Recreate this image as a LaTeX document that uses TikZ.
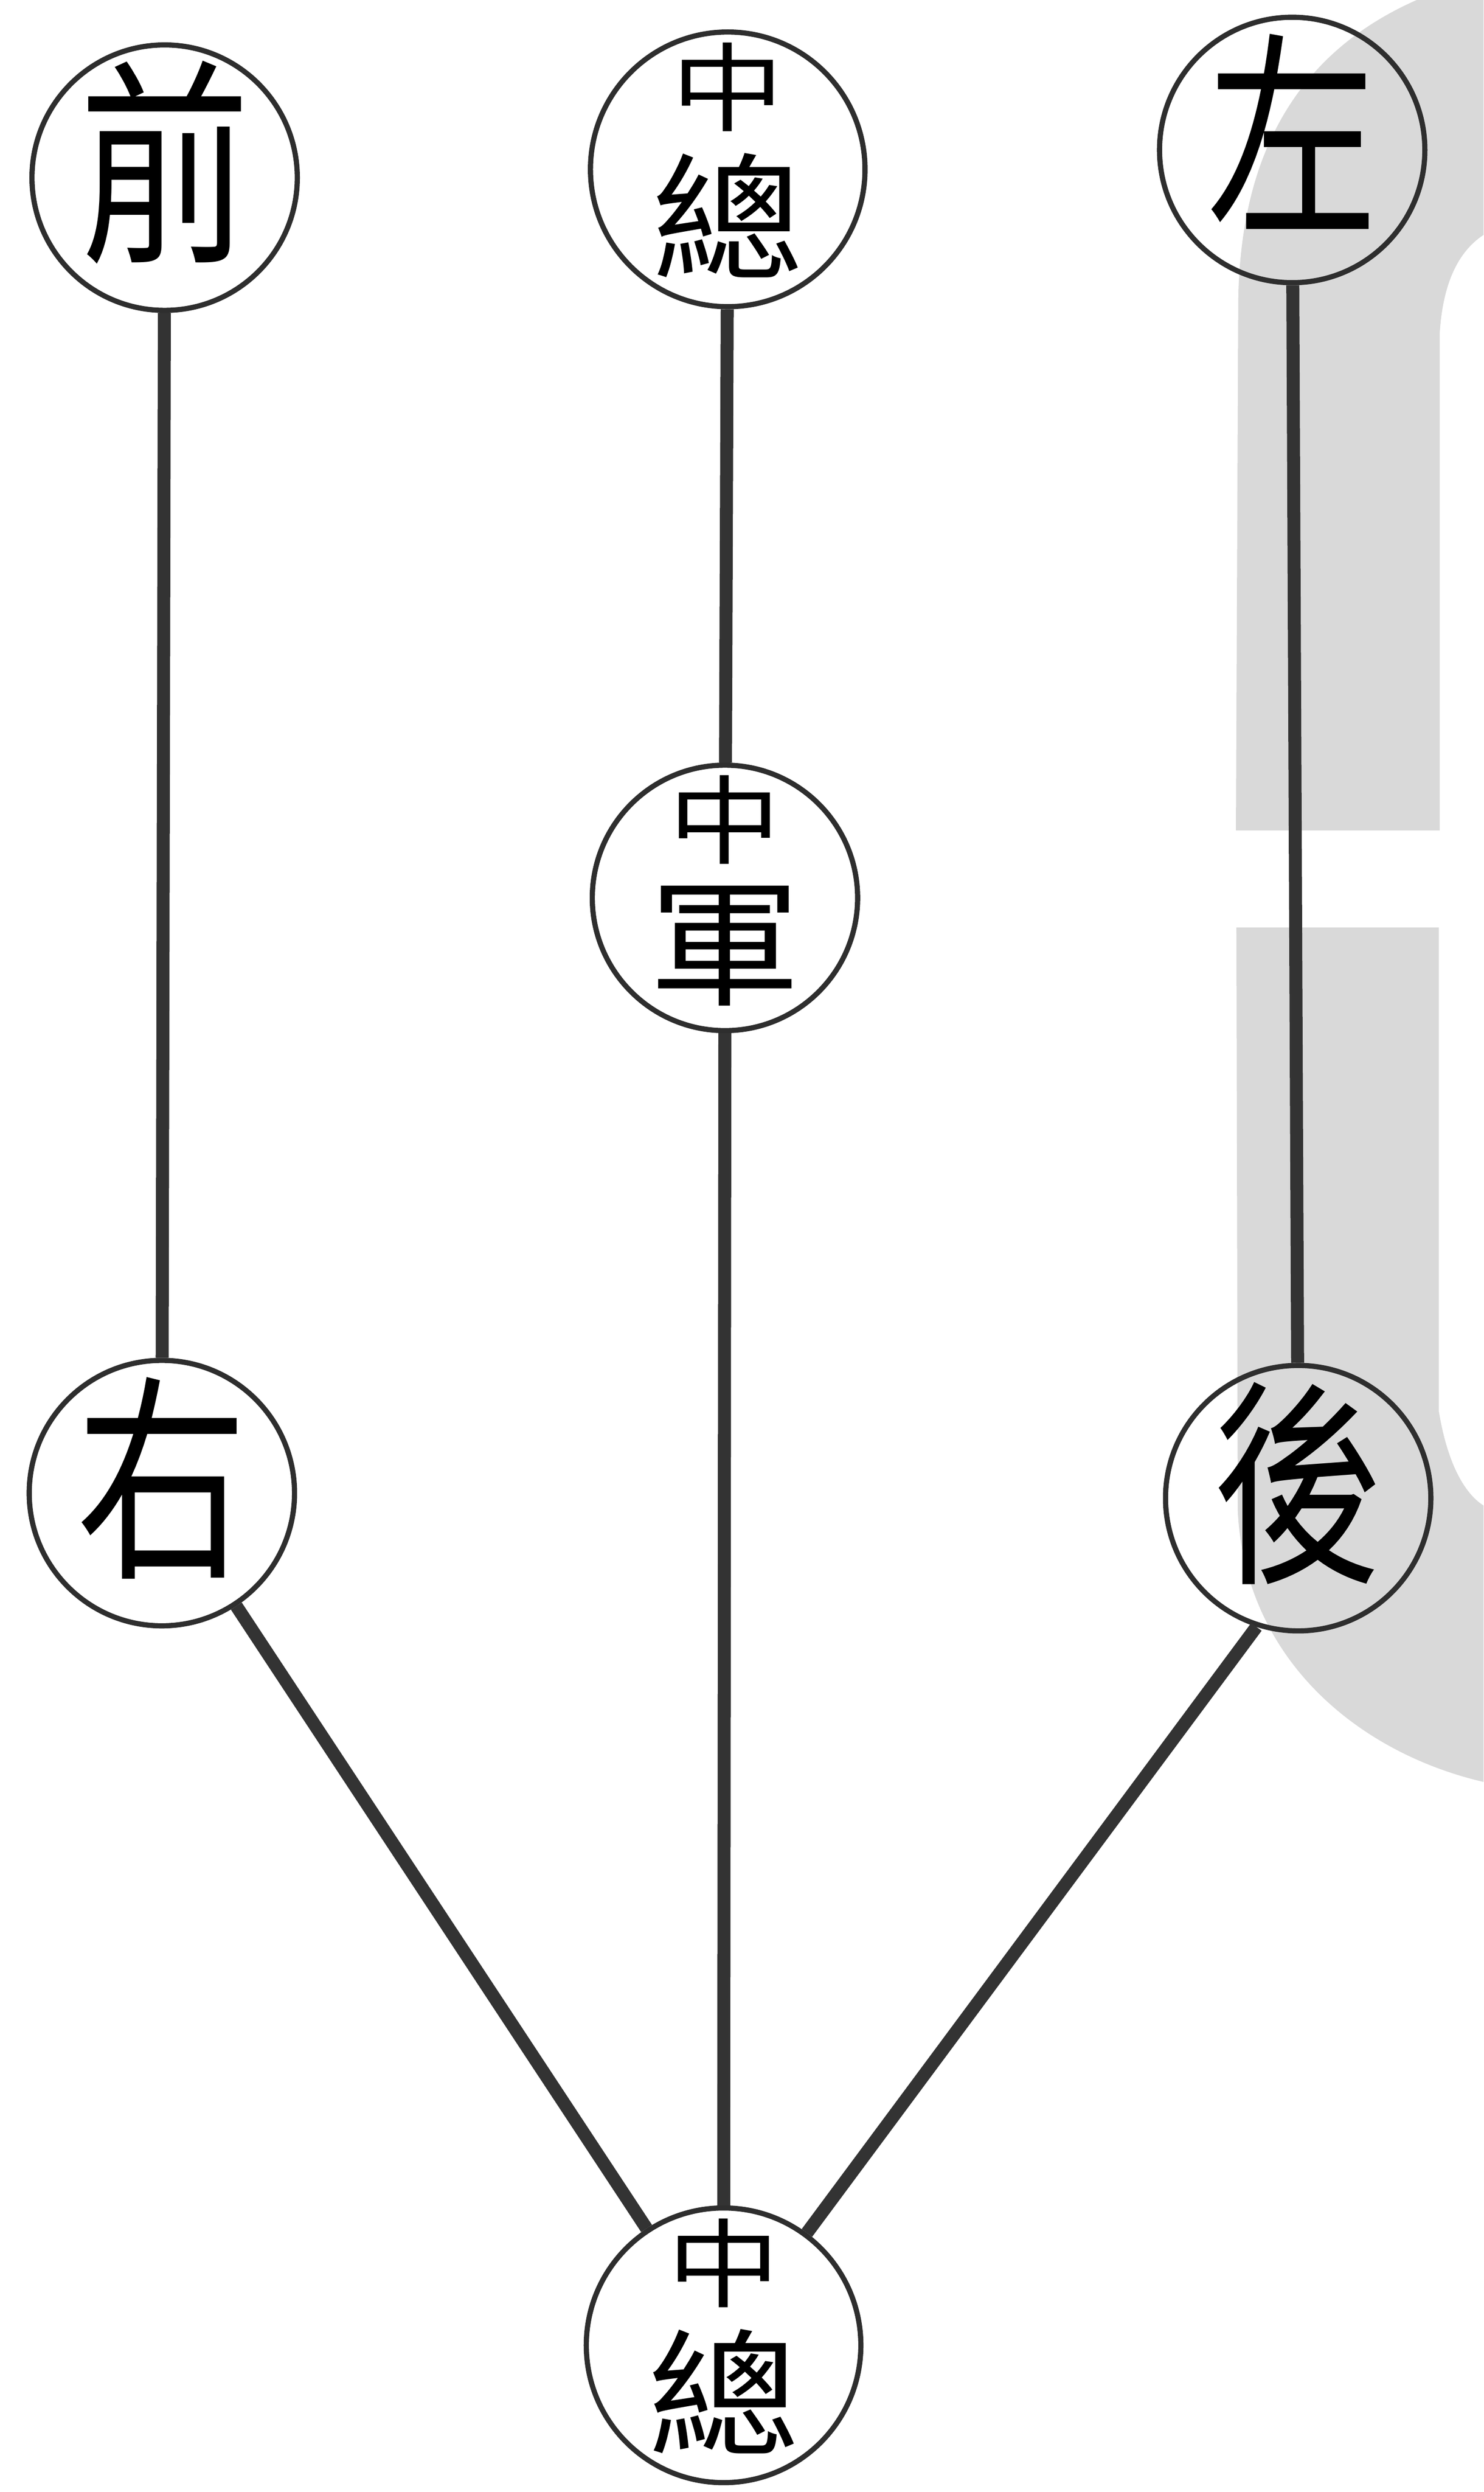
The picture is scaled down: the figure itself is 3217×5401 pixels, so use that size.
\documentclass[tikz,border=0pt]{standalone}
\usepackage{fontspec}
\newfontfamily\hanzi[FakeStretch=0.78]{Noto Sans CJK TC}
\tikzset{
	seal/.style={circle, draw=black!82, line width=3.2pt, inner sep=-0.6cm, minimum size=5.75cm, font=\hanzi\fontsize{135}{135}\selectfont},
	onechar/.style={seal, text height=119pt, text depth=35pt},
	bigseal/.style={seal, minimum size=5.95cm},
	link/.style={draw=black!80, line width=8pt}
}
\newcommand{\twochar}[2]{{\renewcommand{\arraystretch}{0}\begin{tabular}{@{}c@{}}\scalebox{1.05}[0.7]{\fontsize{85}{85}\selectfont #1}\\[18pt]\scalebox{1.2}[0.85]{\fontsize{100}{100}\selectfont #2}\rule[-16pt]{0pt}{0pt}\end{tabular}}}

\begin{document}
\begin{tikzpicture}[x=0.01cm, y=-0.01cm]
	\useasboundingbox (0,0) rectangle (3217,5401);
	\fill[black!15] (3072,0) .. controls (2800,120) and (2690,350) .. (2685,650) -- (2680,1800) -- (3122,1800) -- (3122,720) .. controls (3130,600) and (3170,540) .. (3217,509) -- (3217,0) -- cycle;
	\fill[black!15] (2681,2010) -- (3120,2010) -- (3120,3059) .. controls (3140,3180) and (3180,3240) .. (3217,3263) -- (3217,3862) .. controls (2950,3800) and (2700,3600) .. (2684,3275) -- cycle;

	\node[onechar] (qian) at (357,385) {前};
	\node[bigseal] (zt) at (1578,367) {\twochar{中}{總}};
	\node[onechar] (zuo) at (2802,325) {左};
	\node[seal] (zj) at (1572,1946) {\twochar{中}{軍}};
	\node[onechar] (you) at (351,3236) {右};
	\node[onechar] (hou) at (2815,3247) {後};
	\node[bigseal] (zb) at (1569,5083) {\twochar{中}{總}};

	\draw[link] (qian) -- (you);
	\draw[link] (zt) -- (zj);
	\draw[link] (zj) -- (zb);
	\draw[link] (zuo) -- (hou);
	\draw[link] (you) -- (zb);
	\draw[link] (hou.-108) -- (zb);
\end{tikzpicture}
\end{document}
